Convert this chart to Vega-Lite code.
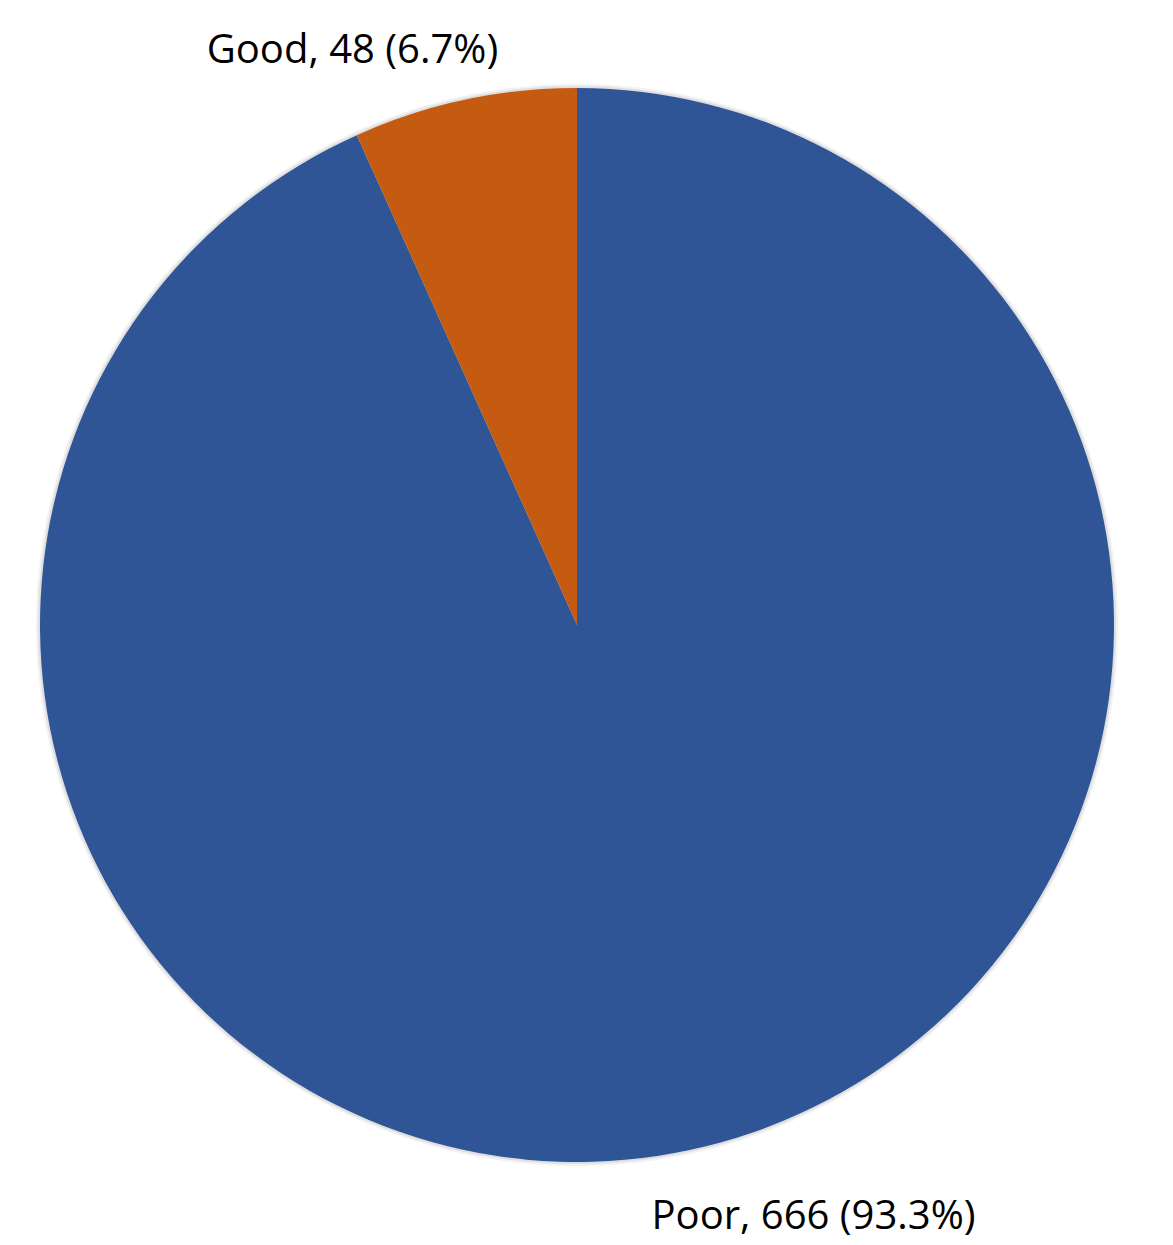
{
  "$schema": "https://vega.github.io/schema/vega-lite/v6.json",
  "width": 1173,
  "height": 1245,
  "autosize": {"type": "fit", "contains": "padding"},
  "padding": {"left": 0, "right": 19, "top": 0, "bottom": 9},
  "background": "white",
  "view": {"stroke": null},
  "data": {
    "values": [
      {"cat": "Poor", "count": 666, "ord": 1, "label": "Poor, 666 (93.3%)"},
      {"cat": "Good", "count": 48, "ord": 2, "label": "Good, 48 (6.7%)"}
    ]
  },
  "encoding": {
    "theta": {"field": "count", "type": "quantitative", "stack": true},
    "order": {"field": "ord", "type": "quantitative"},
    "detail": {"field": "cat", "type": "nominal"}
  },
  "layer": [
    {"mark": {"type": "arc", "outerRadius": 541, "dx": 3, "dy": 5, "color": "#000000", "opacity": 0.05}},
    {"mark": {"type": "arc", "outerRadius": 539, "dx": 2, "dy": 3, "color": "#000000", "opacity": 0.08}},
    {
      "mark": {"type": "arc", "outerRadius": 537},
      "encoding": {
        "color": {"field": "cat", "type": "nominal", "scale": {"domain": ["Poor", "Good"], "range": ["#2F5597", "#C55A11"]}, "legend": null}
      }
    },
    {
      "mark": {"type": "text", "radius": 575, "dx": -104, "align": "center", "baseline": "alphabetic", "font": "Open Sans", "fontSize": 40, "color": "#000000"},
      "encoding": {
        "text": {"condition": {"test": "datum.cat === 'Good'", "field": "label"}, "value": ""}
      }
    },
    {
      "mark": {"type": "text", "radius": 618, "dx": 107, "align": "center", "baseline": "alphabetic", "font": "Open Sans", "fontSize": 40, "color": "#000000"},
      "encoding": {
        "text": {"condition": {"test": "datum.cat === 'Poor'", "field": "label"}, "value": ""}
      }
    }
  ]
}
